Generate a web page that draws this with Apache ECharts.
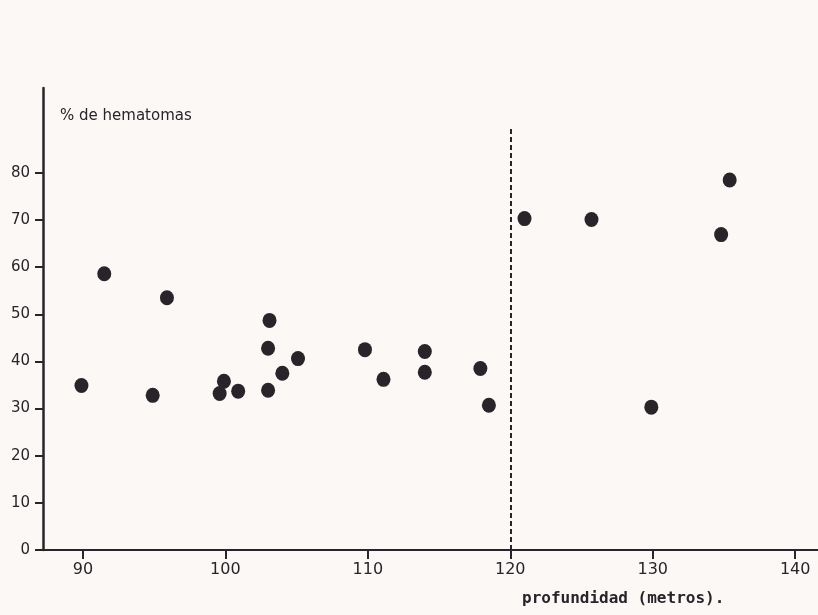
<!DOCTYPE html>
<html>
<head>
<meta charset="utf-8">
<script src="https://cdn.jsdelivr.net/npm/echarts@6/dist/echarts.min.js"></script>
<style>
html,body{margin:0;padding:0;background:#fcf8f6;}
#chart{width:818px;height:615px;}
</style>
</head>
<body>
<div id="chart"></div>
<script>
// profundidad (metros)
const depth = [89.9, 91.5, 94.9, 95.9, 99.6, 99.9, 100.9, 103.0, 103.0, 103.1, 104.0, 105.1,
               109.8, 111.1, 114.0, 114.0, 117.9, 118.5, 121.0, 125.7, 129.9, 134.8, 135.4];
// % de hematomas
const hematomas = [34.9, 58.6, 32.8, 53.5, 33.2, 35.8, 33.7, 33.9, 42.8, 48.7, 37.5, 40.6,
                   42.5, 36.2, 42.1, 37.7, 38.5, 30.7, 70.3, 70.1, 30.3, 66.9, 78.5];
const xTicks = [90, 100, 110, 120, 130, 140];
const yTicks = [0, 10, 20, 30, 40, 50, 60, 70, 80];
const dashX = 120;
const dashTop = 89.5;

const points = depth.map((d, i) => [d, hematomas[i]]);
const ink = '#28242a';

const chart = echarts.init(document.getElementById('chart'));
chart.setOption({
  backgroundColor: '#fcf8f6',
  animation: false,
  grid: {left: 43, right: 0, top: 88, bottom: 65},
  xAxis: {
    type: 'value', min: 87.2, max: 141.6,
    splitLine: {show: false},
    axisLine: {onZero: false, lineStyle: {color: ink, width: 2}},
    axisTick: {show: true, length: 9, lineStyle: {color: ink, width: 2}, customValues: xTicks},
    axisLabel: {customValues: xTicks, color: ink, fontFamily: 'DejaVu Sans', fontSize: 16, margin: 12}
  },
  yAxis: {
    type: 'value', min: 0, max: 98,
    splitLine: {show: false},
    axisLine: {show: true, lineStyle: {color: ink, width: 2.5}},
    axisTick: {show: true, length: 8, lineStyle: {color: ink, width: 2}, customValues: yTicks},
    axisLabel: {customValues: yTicks, color: ink, fontFamily: 'DejaVu Sans', fontSize: 15, margin: 13}
  },
  graphic: [
    {type: 'text', left: 60, top: 109, style: {text: '% de hematomas', fill: ink, font: '15px "DejaVu Sans"'}},
    {type: 'text', left: 522, top: 591, style: {text: 'profundidad (metros).', fill: ink, font: 'bold 16px "DejaVu Sans Mono"'}}
  ],
  series: [{
    type: 'scatter',
    data: points,
    symbol: 'circle',
    symbolSize: [14, 15],
    itemStyle: {color: ink, opacity: 1},
    markLine: {
      silent: true,
      symbol: ['none', 'none'],
      label: {show: false},
      lineStyle: {type: [5, 3], color: ink, width: 2},
      data: [[{coord: [dashX, 0]}, {coord: [dashX, dashTop]}]]
    }
  }]
});
</script>
</body>
</html>
